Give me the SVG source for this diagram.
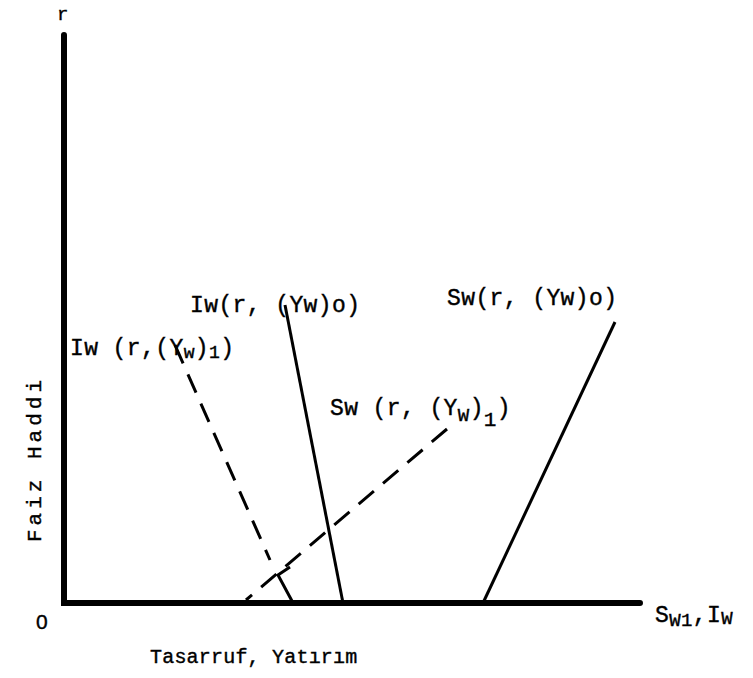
<svg xmlns="http://www.w3.org/2000/svg" width="753" height="678" viewBox="0 0 753 678">
<style>
text{font-family:"Liberation Mono","Courier New",monospace;fill:#000;stroke:#000;stroke-width:0.4}
.lbl{font-size:23px;letter-spacing:0.4px}
.ax{stroke:#000;stroke-width:6;fill:none;stroke-linecap:round}
.sol{stroke:#000;stroke-width:3;fill:none}
.dash{stroke:#000;stroke-width:3;fill:none;stroke-dasharray:20 12}
</style>
<rect width="753" height="678" fill="#fff"/>
<g id="axes">
<path class="ax" d="M64,35 L64,603 L640,603"/>
<text x="57" y="20" font-size="19">r</text>
<text x="36" y="629" font-size="21" style="font-family:'Liberation Sans',Arial,sans-serif">0</text>
<text x="655" y="622" class="lbl">S<tspan font-size="19" dy="4">W1</tspan><tspan dy="-4">,</tspan><tspan>I</tspan><tspan font-size="19" dy="2">W</tspan></text>
<text x="150" y="663" font-size="20" letter-spacing="0.2">Tasarruf, Yatırım</text>
<text transform="translate(41,542) rotate(-90)" font-size="21" letter-spacing="4">Faiz Haddi</text>
</g>
<g id="connectors">
<line class="sol" x1="285" y1="305" x2="343" y2="603"/>
<line class="sol" x1="615" y1="322" x2="483" y2="603"/>
<line class="dash" x1="175" y1="345" x2="270" y2="560"/>
<path class="sol" d="M292,601 L278,575 L290,567"/>
<line class="dash" x1="447" y1="429" x2="246" y2="600"/>
</g>
<g id="label-iw0"><text x="190" y="312" class="lbl">Iw(r, (Yw)o)</text></g>
<g id="label-sw0"><text x="447" y="305" class="lbl">Sw(r, (Yw)o)</text></g>
<g id="label-iw1"><text x="70" y="355" class="lbl">Iw (r,(Y<tspan font-size="18" dy="3">w</tspan><tspan dy="-3">)</tspan><tspan font-size="18" dy="3">1</tspan><tspan dy="-3">)</tspan></text></g>
<g id="label-sw1"><text x="330" y="415" class="lbl">Sw (r, (Y<tspan font-size="19" dy="6">W</tspan><tspan dy="-6">)</tspan><tspan font-size="21" dy="11">1</tspan><tspan dy="-11">)</tspan></text></g>
</svg>
